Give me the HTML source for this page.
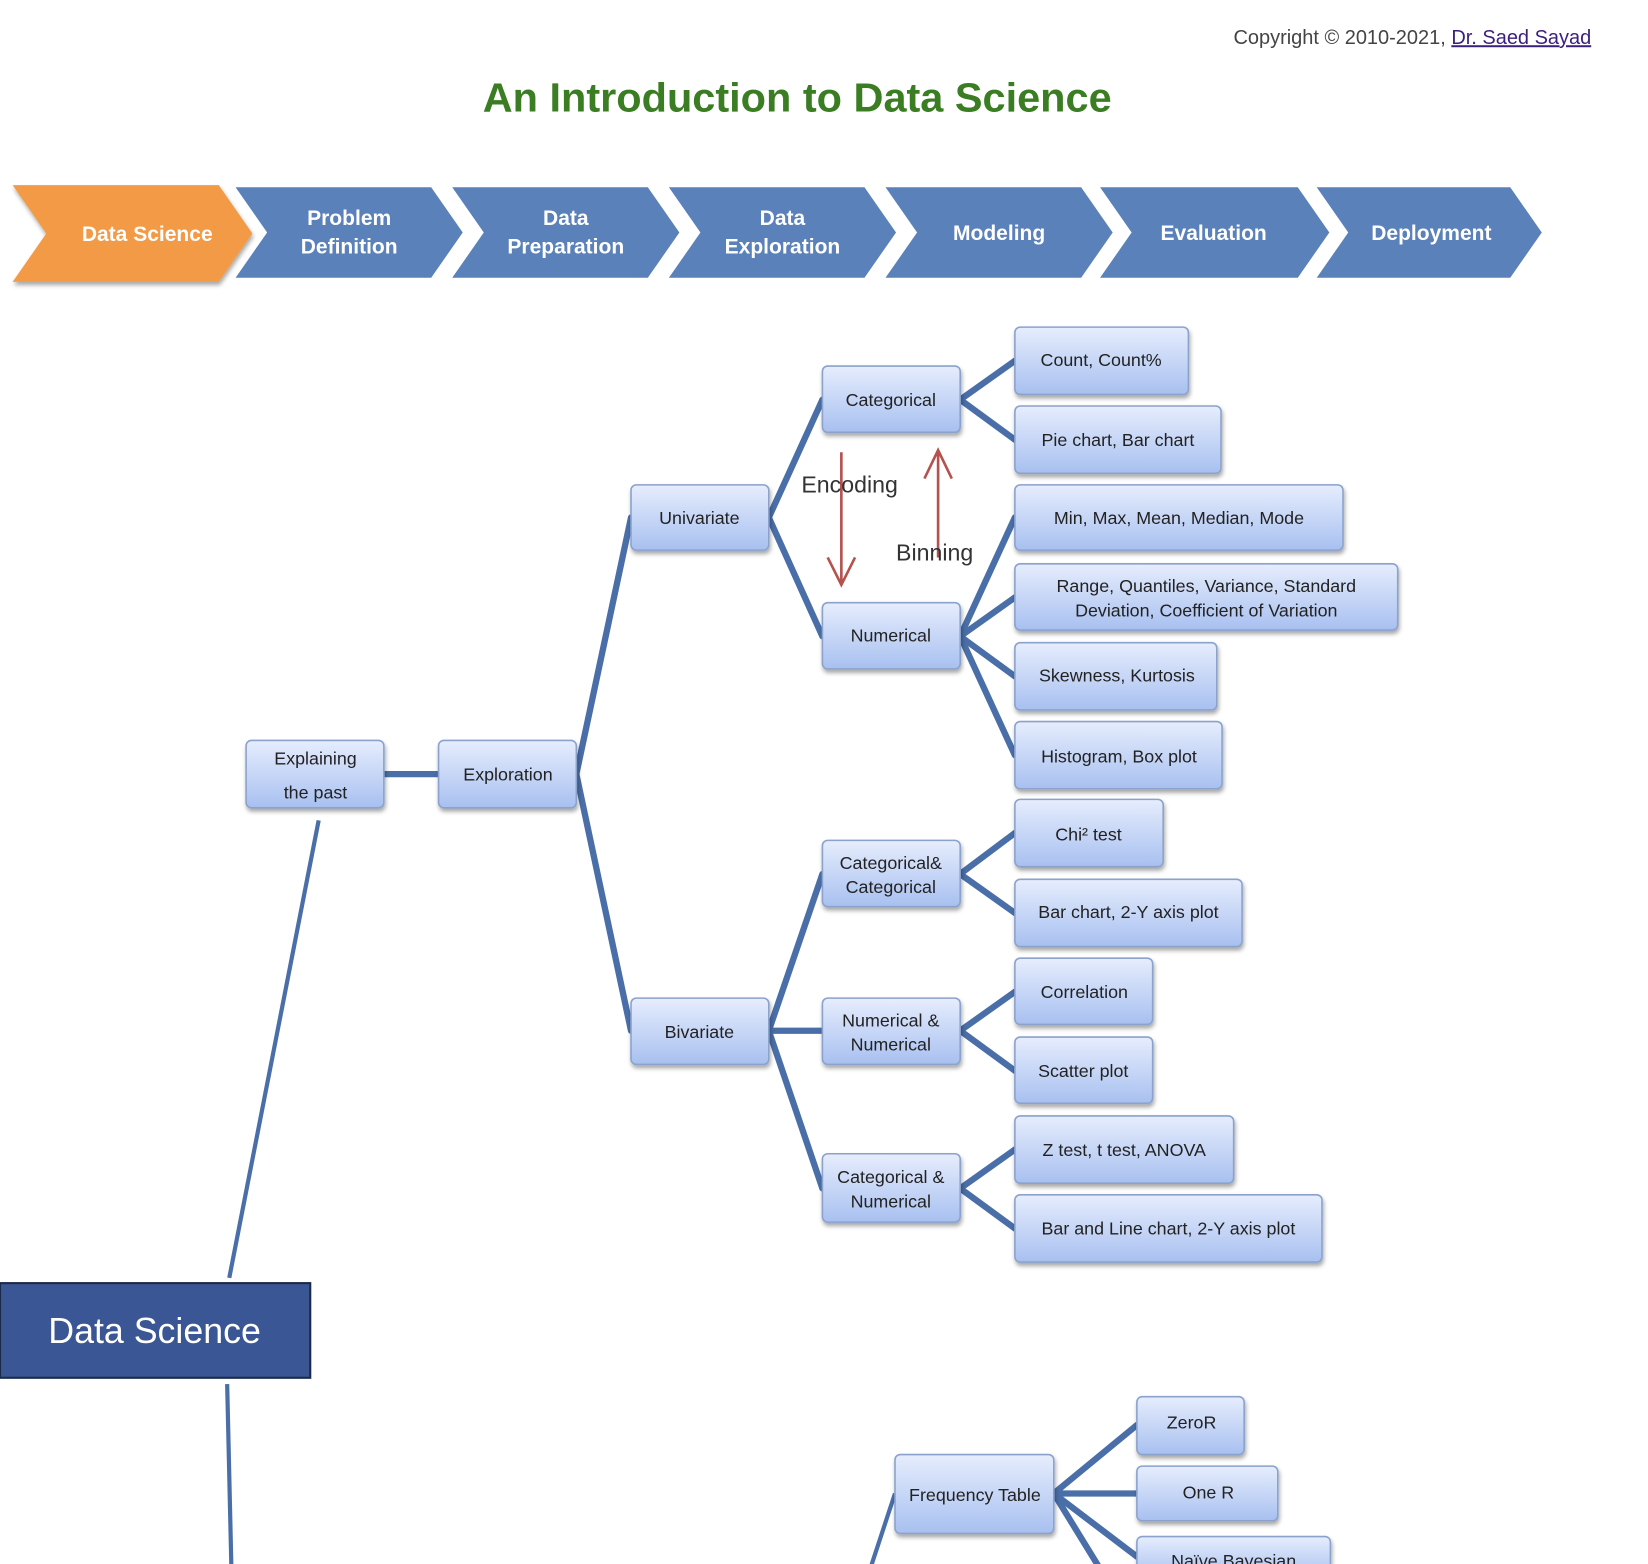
<!DOCTYPE html>
<html><head><meta charset="utf-8"><style>
html,body{margin:0;padding:0;background:#fff;width:1648px;height:1564px;overflow:hidden}
svg{display:block}
text{font-family:"Liberation Sans",sans-serif}
</style></head><body>
<svg width="1648" height="1564" viewBox="0 0 1567 1487" xmlns="http://www.w3.org/2000/svg">
<defs>
<linearGradient id="bg" x1="0" y1="0" x2="0" y2="1"><stop offset="0" stop-color="#e6edfd"/><stop offset="1" stop-color="#a8c0f0"/></linearGradient>
<filter id="sh" x="-10%" y="-10%" width="130%" height="140%"><feDropShadow dx="1" dy="3" stdDeviation="2" flood-color="#000" flood-opacity="0.35"/></filter>
</defs>
<text x="1513" y="42" font-size="19" fill="#444" text-anchor="end">Copyright © 2010-2021,  <tspan fill="#3b1f7d" text-decoration="underline">Dr. Saed Sayad</tspan></text>
<text x="758" y="106" font-size="39" font-weight="bold" fill="#3a7d22" text-anchor="middle" textLength="598" lengthAdjust="spacingAndGlyphs">An Introduction to Data Science</text>

<g filter="url(#sh)">
<polygon points="12,176 208,176 240,222 208,268 12,268 44,222" fill="#f29a45"/>
</g>
<g fill="#5a81b9">
<polygon points="224,178 410,178 440,221 410,264 224,264 254,221"/>
<polygon points="430,178 616,178 646,221 616,264 430,264 460,221"/>
<polygon points="636,178 822,178 852,221 822,264 636,264 666,221"/>
<polygon points="842,178 1028,178 1058,221 1028,264 842,264 872,221"/>
<polygon points="1046,178 1234,178 1264,221 1234,264 1046,264 1076,221"/>
<polygon points="1252,178 1436,178 1466,221 1436,264 1252,264 1282,221"/>
</g>
<g fill="#fff" font-size="20" font-weight="bold" text-anchor="middle">
<text x="140" y="229">Data Science</text>
<text x="332" y="214">Problem</text><text x="332" y="241">Definition</text>
<text x="538" y="214">Data</text><text x="538" y="241">Preparation</text>
<text x="744" y="214">Data</text><text x="744" y="241">Exploration</text>
<text x="950" y="228">Modeling</text>
<text x="1154" y="228">Evaluation</text>
<text x="1361" y="228">Deployment</text>
</g>

<g stroke="#4a6fa8" stroke-width="6" fill="none" stroke-linecap="round">
<path d="M365,736H417"/>
<path d="M548,736L600,492M548,736L600,980"/>
<path d="M731,492L782,380M731,492L782,605"/>
<path d="M913,380L965,343M913,380L965,418"/>
<path d="M913,605L965,492M913,605L965,568M913,605L965,643M913,605L965,718"/>
<path d="M731,980L782,831M731,980H782M731,980L782,1130"/>
<path d="M913,831L965,792M913,831L965,868"/>
<path d="M913,980L965,943M913,980L965,1018"/>
<path d="M913,1130L965,1093M913,1130L965,1168"/>
<path d="M1002,1420L1081,1355M1002,1420H1081M1002,1420L1045,1490M1002,1420L1081,1480"/>
</g>
<g stroke="#4a6fa8" stroke-width="4" fill="none">
<path d="M303,780L218,1215"/>
<path d="M216,1316L220,1490"/>
<path d="M851,1420L828,1490"/>
</g>

<g stroke="#b5524e" stroke-width="2.5" fill="none">
<path d="M800,430V556M787,530L800,556L813,530"/>
<path d="M892,530V428M879,455L892,428L905,455"/>
</g>
<text x="762" y="468" font-size="22" fill="#333">Encoding</text>
<text x="852" y="533" font-size="22" fill="#333">Binning</text>

<g filter="url(#sh)" fill="url(#bg)" stroke="#8aa2cc" stroke-width="1.5">
<rect x="965" y="311" width="165" height="64" rx="5"/>
<rect x="782" y="348" width="131" height="63" rx="5"/>
<rect x="965" y="386" width="196" height="64" rx="5"/>
<rect x="600" y="461" width="131" height="62" rx="5"/>
<rect x="965" y="461" width="312" height="62" rx="5"/>
<rect x="965" y="536" width="364" height="63" rx="5"/>
<rect x="782" y="573" width="131" height="63" rx="5"/>
<rect x="965" y="611" width="192" height="64" rx="5"/>
<rect x="965" y="686" width="197" height="64" rx="5"/>
<rect x="234" y="704" width="131" height="64" rx="5"/>
<rect x="417" y="704" width="131" height="64" rx="5"/>
<rect x="965" y="760" width="141" height="64" rx="5"/>
<rect x="782" y="799" width="131" height="63" rx="5"/>
<rect x="965" y="836" width="216" height="64" rx="5"/>
<rect x="965" y="911" width="131" height="63" rx="5"/>
<rect x="600" y="949" width="131" height="63" rx="5"/>
<rect x="782" y="949" width="131" height="63" rx="5"/>
<rect x="965" y="986" width="131" height="63" rx="5"/>
<rect x="965" y="1061" width="208" height="64" rx="5"/>
<rect x="782" y="1097" width="131" height="65" rx="5"/>
<rect x="965" y="1136" width="292" height="64" rx="5"/>
<rect x="851" y="1383" width="151" height="75" rx="5"/>
<rect x="1081" y="1328" width="102" height="55" rx="5"/>
<rect x="1081" y="1394" width="134" height="52" rx="5"/>
<rect x="1081" y="1461" width="184" height="40" rx="5"/>
</g>
<g font-size="17" fill="#222" text-anchor="middle">
<text x="1047" y="348">Count, Count%</text>
<text x="847" y="386">Categorical</text>
<text x="1063" y="424">Pie chart, Bar chart</text>
<text x="665" y="498">Univariate</text>
<text x="1121" y="498">Min, Max, Mean, Median, Mode</text>
<text x="1147" y="563">Range, Quantiles, Variance, Standard</text>
<text x="1147" y="586">Deviation, Coefficient of Variation</text>
<text x="847" y="610">Numerical</text>
<text x="1062" y="648">Skewness, Kurtosis</text>
<text x="1064" y="725">Histogram, Box plot</text>
<text x="300" y="727">Explaining</text>
<text x="300" y="759">the past</text>
<text x="483" y="742">Exploration</text>
<text x="1035" y="799">Chi² test</text>
<text x="847" y="826">Categorical&amp;</text>
<text x="847" y="849">Categorical</text>
<text x="1073" y="873">Bar chart, 2-Y axis plot</text>
<text x="1031" y="949">Correlation</text>
<text x="665" y="987">Bivariate</text>
<text x="847" y="976">Numerical &amp;</text>
<text x="847" y="999">Numerical</text>
<text x="1030" y="1024">Scatter plot</text>
<text x="1069" y="1099">Z test, t test, ANOVA</text>
<text x="847" y="1125">Categorical &amp;</text>
<text x="847" y="1148">Numerical</text>
<text x="1111" y="1174">Bar and Line chart, 2-Y axis plot</text>
<text x="927" y="1427">Frequency Table</text>
<text x="1133" y="1358">ZeroR</text>
<text x="1149" y="1425">One R</text>
<text x="1173" y="1490">Naïve Bayesian</text>
</g>

<rect x="0" y="1220" width="295" height="90" fill="#3a5694" stroke="#1a2a4a" stroke-width="2"/>
<text x="147" y="1277" font-size="34" fill="#fff" text-anchor="middle">Data Science</text>
</svg>
</body></html>
